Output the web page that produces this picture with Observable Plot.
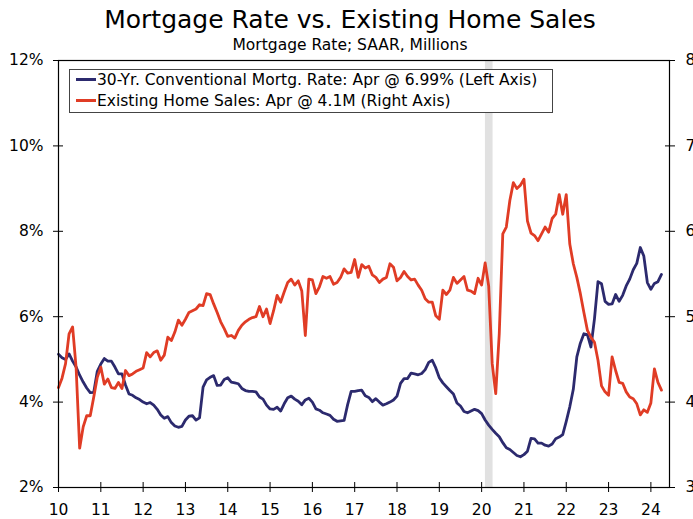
<!DOCTYPE html>
<html>
<head>
<meta charset="utf-8">
<script src="https://cdn.jsdelivr.net/npm/d3@7"></script>
<script src="https://cdn.jsdelivr.net/npm/@observablehq/plot@0.6"></script>
<style>
  html, body { margin: 0; padding: 0; background: #fff; }
  #wrap { position: relative; width: 693px; height: 519px; font-family: "DejaVu Sans", Verdana, sans-serif; color: #000; overflow: hidden; }
  #title { position: absolute; left: 0; width: 700px; top: 7px; text-align: center; font-size: 25px; line-height: 25px; white-space: nowrap; }
  #subtitle { position: absolute; left: 0; width: 700px; top: 38px; text-align: center; font-size: 15.5px; line-height: 15px; white-space: nowrap; }
  #chart { position: absolute; left: 0; top: 50px; }
  #legend { position: absolute; left: 69px; top: 69px; width: 484px; height: 44px; box-sizing: border-box; border: 1px solid #444; background: #fff; font-size: 15.5px; }
  .row { position: relative; height: 21px; line-height: 21px; padding-left: 27px; white-space: nowrap; }
  .sw { position: absolute; left: 6px; top: 8px; width: 20px; height: 3px; }
</style>
</head>
<body>
<div id="wrap">
  <div id="title">Mortgage Rate vs. Existing Home Sales</div>
  <div id="subtitle">Mortgage Rate; SAAR, Millions</div>
  <div id="chart"></div>
  <div id="legend"></div>
</div>
<script>
// Monthly series, January 2010 through April 2024
const startYear = 2010;

// 30-Yr. Conventional Mortgage Rate, % (left axis)
const mortgageRate = [
  5.12, 5.04, 5.00, 5.13, 4.96, 4.82, 4.63, 4.47, 4.33, 4.22, 4.23, 4.72, // 2010
  4.89, 5.02, 4.96, 4.96, 4.82, 4.66, 4.66, 4.40, 4.19, 4.16, 4.10, 4.06, // 2011
  4.00, 3.96, 3.99, 3.93, 3.83, 3.70, 3.62, 3.66, 3.52, 3.44, 3.41, 3.43, // 2012
  3.58, 3.67, 3.68, 3.58, 3.63, 4.35, 4.52, 4.58, 4.62, 4.39, 4.40, 4.53, // 2013
  4.57, 4.47, 4.45, 4.43, 4.32, 4.27, 4.25, 4.25, 4.24, 4.12, 4.07, 3.93, // 2014
  3.84, 3.83, 3.88, 3.79, 3.96, 4.10, 4.14, 4.07, 4.02, 3.94, 4.05, 4.09, // 2015
  4.00, 3.84, 3.81, 3.75, 3.72, 3.69, 3.60, 3.55, 3.56, 3.57, 3.94, 4.25, // 2016
  4.25, 4.27, 4.28, 4.15, 4.11, 4.01, 4.08, 4.00, 3.93, 3.96, 4.00, 4.05, // 2017
  4.14, 4.44, 4.55, 4.55, 4.68, 4.66, 4.64, 4.67, 4.76, 4.93, 4.98, 4.80, // 2018
  4.57, 4.45, 4.36, 4.27, 4.19, 3.98, 3.91, 3.78, 3.75, 3.79, 3.83, 3.80, // 2019
  3.73, 3.58, 3.46, 3.36, 3.27, 3.19, 3.05, 2.93, 2.89, 2.82, 2.75, 2.72, // 2020
  2.77, 2.85, 3.15, 3.14, 3.04, 3.04, 2.99, 2.97, 3.02, 3.14, 3.18, 3.24, // 2021
  3.55, 3.89, 4.30, 5.06, 5.38, 5.60, 5.58, 5.29, 5.95, 6.82, 6.77, 6.36, // 2022
  6.29, 6.30, 6.52, 6.36, 6.50, 6.72, 6.88, 7.10, 7.25, 7.62, 7.42, 6.80, // 2023
  6.64, 6.78, 6.82, 6.99                                                  // 2024
];

// Existing Home Sales, SAAR, millions (right axis)
const homeSales = [
  4.17, 4.28, 4.45, 4.80, 4.88, 4.40, 3.46, 3.71, 3.84, 3.84, 4.06, 4.29, // 2010
  4.41, 4.21, 4.27, 4.17, 4.16, 4.23, 4.16, 4.37, 4.31, 4.33, 4.36, 4.38, // 2011
  4.40, 4.58, 4.53, 4.58, 4.60, 4.49, 4.55, 4.76, 4.72, 4.82, 4.96, 4.90, // 2012
  4.97, 5.05, 5.07, 5.09, 5.14, 5.13, 5.27, 5.26, 5.15, 5.05, 4.94, 4.86, // 2013
  4.77, 4.78, 4.75, 4.84, 4.90, 4.94, 4.97, 4.99, 5.00, 5.12, 5.00, 5.09, // 2014
  4.92, 5.07, 5.25, 5.17, 5.29, 5.40, 5.44, 5.37, 5.42, 5.30, 4.78, 5.44, // 2015
  5.43, 5.27, 5.35, 5.47, 5.45, 5.47, 5.38, 5.40, 5.46, 5.56, 5.51, 5.52, // 2016
  5.67, 5.46, 5.61, 5.57, 5.59, 5.49, 5.46, 5.40, 5.44, 5.46, 5.62, 5.58, // 2017
  5.42, 5.46, 5.53, 5.47, 5.43, 5.44, 5.37, 5.31, 5.21, 5.17, 5.17, 5.01, // 2018
  4.97, 5.31, 5.26, 5.31, 5.46, 5.39, 5.43, 5.47, 5.31, 5.30, 5.27, 5.45, // 2019
  5.37, 5.63, 5.36, 4.45, 4.10, 4.80, 5.97, 6.05, 6.36, 6.57, 6.50, 6.54, // 2020
  6.61, 6.12, 5.98, 5.95, 5.89, 5.97, 6.05, 5.99, 6.15, 6.20, 6.43, 6.20, // 2021
  6.43, 5.85, 5.62, 5.46, 5.27, 5.05, 4.84, 4.76, 4.70, 4.49, 4.19, 4.12, // 2022
  4.08, 4.53, 4.37, 4.23, 4.22, 4.12, 4.06, 4.04, 3.98, 3.85, 3.91, 3.88, // 2023
  3.99, 4.39, 4.23, 4.14                                                  // 2024
];

// Recession shading (fractional years)
const recession = [{start: 2020.09, end: 2020.27}];

// Axis ticks
const xTicks = [2010, 2011, 2012, 2013, 2014, 2015, 2016, 2017, 2018, 2019, 2020, 2021, 2022, 2023, 2024];
const leftTicks = [2, 4, 6, 8, 10, 12];          // percent
const rightTickLabels = [3, 4, 5, 6, 7, 8];      // millions

// Legend labels
const seriesNames = [
  "30-Yr. Conventional Mortg. Rate: Apr @ 6.99% (Left Axis)",
  "Existing Home Sales: Apr @ 4.1M (Right Axis)"
];
const seriesColors = ["#2c2a6e", "#e03c25"];

// Map right axis (3..8) onto left axis (2..12)
const rightToLeft = v => 2 + (v - 3) * 2;

const rateData = mortgageRate.map((v, i) => ({t: startYear + i / 12, v}));
const salesData = homeSales.map((v, i) => ({t: startYear + i / 12, v}));

const chart = Plot.plot({
  width: 693,
  height: 469,
  marginTop: 10,
  marginBottom: 32,
  marginLeft: 58,
  marginRight: 24,
  style: {fontFamily: "'DejaVu Sans', Verdana, sans-serif", fontSize: "15.5px", color: "#000", background: "transparent"},
  x: {domain: [2010, 2024.44]},
  y: {domain: [2, 12]},
  marks: [
    Plot.rect(recession, {x1: "start", x2: "end", fill: "#e1e1e1"}),
    Plot.line(rateData, {x: "t", y: "v", stroke: seriesColors[0], strokeWidth: 2.8, curve: "linear"}),
    Plot.line(salesData, {x: "t", y: d => rightToLeft(d.v), stroke: seriesColors[1], strokeWidth: 2.8, curve: "linear"}),
    Plot.frame({stroke: "#000", strokeWidth: 1.2}),
    // left axis: crossing ticks + labels
    Plot.axisY(leftTicks, {anchor: "left", tickSize: 10, dx: 5, fill: "none", stroke: "#000", label: null}),
    Plot.axisY(leftTicks, {anchor: "left", tickSize: 0, tickPadding: 15, stroke: "none", tickFormat: d => d + "%", label: null}),
    // right axis
    Plot.axisY(rightTickLabels.map(rightToLeft), {anchor: "right", tickSize: 10, dx: -5, fill: "none", stroke: "#000", label: null}),
    Plot.axisY(rightTickLabels.map(rightToLeft), {anchor: "right", tickSize: 0, tickPadding: 16, stroke: "none", tickFormat: d => String((d - 2) / 2 + 3), label: null}),
    // bottom axis
    Plot.axisX(xTicks, {anchor: "bottom", tickSize: 10, dy: -5, fill: "none", stroke: "#000", label: null}),
    Plot.axisX(xTicks, {anchor: "bottom", tickSize: 0, tickPadding: 16, stroke: "none", tickFormat: d => String(d).slice(2), label: null})
  ]
});
document.getElementById("chart").appendChild(chart);

const legend = document.getElementById("legend");
seriesNames.forEach((name, i) => {
  const row = document.createElement("div");
  row.className = "row";
  const sw = document.createElement("span");
  sw.className = "sw";
  sw.style.background = seriesColors[i];
  row.appendChild(sw);
  row.appendChild(document.createTextNode(name));
  legend.appendChild(row);
});
</script>
</body>
</html>
